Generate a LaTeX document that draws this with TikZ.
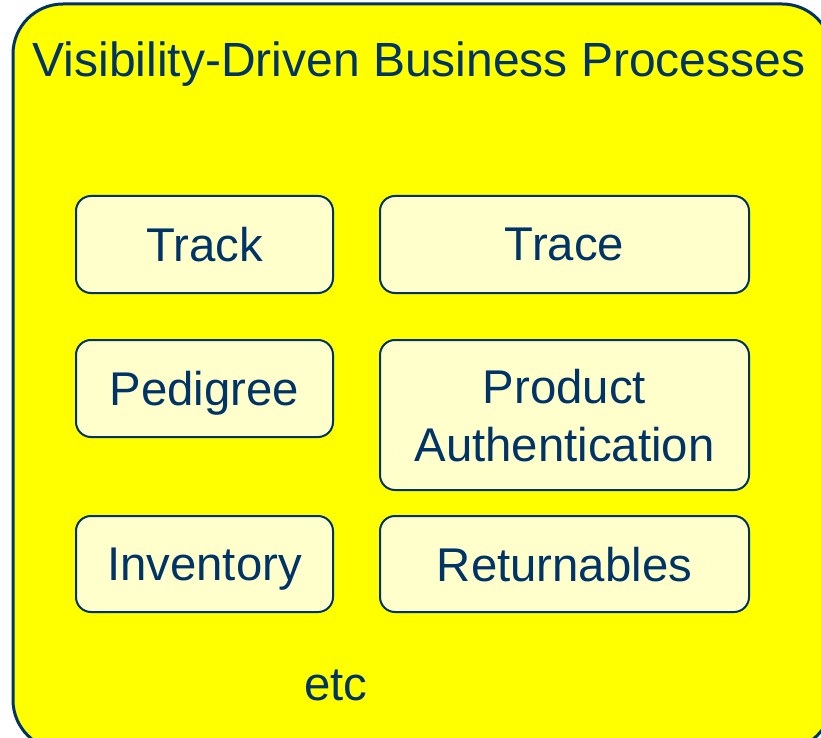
\documentclass[tikz,border=0pt]{standalone}
\usepackage{fontspec}
\setmainfont{Liberation Sans}
\definecolor{navyblue}{RGB}{0,51,102}
\definecolor{paleyellow}{RGB}{255,255,204}
\definecolor{brightyellow}{RGB}{255,255,0}
\tikzset{every picture/.style={line width=0.75pt}}
\tikzset{
  procbox/.style={draw=navyblue, line width=1.5pt, fill=paleyellow, rounded corners=11.25pt,
    text=navyblue, font=\fontsize{35.5pt}{43.5pt}\selectfont, align=center,
    inner sep=0pt, text depth=0pt},
  bigtext/.style={text=navyblue, font=\fontsize{35.5pt}{43.5pt}\selectfont, inner sep=0pt}
}

\begin{document}
\begin{tikzpicture}[x=0.75pt,y=0.75pt,yscale=-1,xscale=1]
\useasboundingbox (0,0) rectangle (821,738);
\clip (0,0) rectangle (821,738);

%Rounded Rect [outer panel]
\draw [draw=navyblue, line width=2.25pt, fill=brightyellow, rounded corners=37.5pt] (13,4) rectangle (832,750) ;

% Text Node
\node [bigtext, font=\fontsize{36pt}{43.5pt}\selectfont, anchor=base] (title) at (419,77) {Visibility-Driven Business Processes};

%Rounded Rect
\node [procbox, minimum width=192.75pt, minimum height=72.75pt] (track) at (204.5,244.5) {Track};
%Rounded Rect
\node [procbox, minimum width=276.75pt, minimum height=72.75pt] (trace) at (564.5,244.5) {Trace};
%Rounded Rect
\node [procbox, minimum width=192.75pt, minimum height=72.75pt] (pedigree) at (204.5,388.5) {Pedigree};
%Rounded Rect
\node [procbox, minimum width=276.75pt, minimum height=112.5pt] (auth) at (564.5,415) {Product\\Authentication};
%Rounded Rect
\node [procbox, minimum width=192.75pt, minimum height=72pt] (inventory) at (204.5,564) {Inventory};
%Rounded Rect
\node [procbox, minimum width=276.75pt, minimum height=72pt] (returnables) at (564.5,564) {Returnables};

% Text Node
\node [bigtext, anchor=base] (etc) at (336,700) {etc};

\end{tikzpicture}
\end{document}
